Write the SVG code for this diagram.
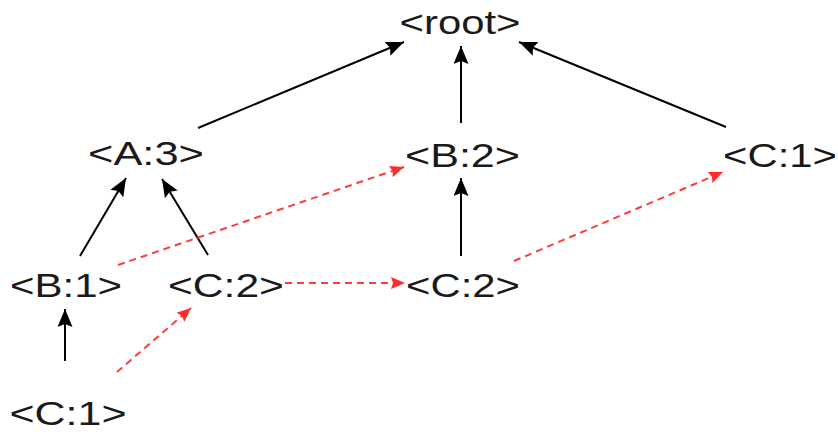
<svg xmlns="http://www.w3.org/2000/svg" width="838" height="437" viewBox="0 0 838 437">
  <defs>
    <marker id="headBlack" markerUnits="userSpaceOnUse" markerWidth="19" markerHeight="15" refX="18" refY="7.5" orient="auto">
      <path d="M0,0 L18,7.5 L0,15 L3,7.5 z" fill="#000"/>
    </marker>
    <marker id="headRed" markerUnits="userSpaceOnUse" markerWidth="15" markerHeight="12" refX="14" refY="6" orient="auto">
      <path d="M0,0 L14,6 L0,12 L2,6 z" fill="#ff2a2a"/>
    </marker>
  </defs>
  <style>
    .lbl { font-family: "Liberation Sans", Arial, sans-serif; font-size: 32.5px; fill: #1a1a1a; text-anchor: middle; }
    .tree { stroke: #000; stroke-width: 2; fill: none; marker-end: url(#headBlack); }
    .link { stroke: #ff3b3b; stroke-width: 2; stroke-dasharray: 7 5; fill: none; marker-end: url(#headRed); }
  </style>

  <g id="connectors">
    <!-- parent edges -->
    <line class="tree" x1="198" y1="128" x2="404" y2="42"/>
    <line class="tree" x1="461" y1="123" x2="461" y2="46"/>
    <line class="tree" x1="726" y1="127" x2="519" y2="42"/>
    <line class="tree" x1="80" y1="256" x2="126" y2="178"/>
    <line class="tree" x1="208" y1="255" x2="162" y2="179"/>
    <line class="tree" x1="461" y1="256" x2="461" y2="178"/>
    <line class="tree" x1="65" y1="361" x2="65" y2="309"/>
    <!-- node links -->
    <line class="link" x1="118" y1="265" x2="404" y2="167"/>
    <line class="link" x1="285" y1="283" x2="405" y2="283"/>
    <line class="link" x1="514" y1="261" x2="723" y2="172"/>
    <line class="link" x1="117" y1="372" x2="191" y2="308"/>
  </g>

  <g id="root"><text class="lbl" x="460" y="34" textLength="121" lengthAdjust="spacingAndGlyphs">&lt;root&gt;</text></g>
  <g id="a3"><text class="lbl" x="146" y="165" textLength="116" lengthAdjust="spacingAndGlyphs">&lt;A:3&gt;</text></g>
  <g id="b2"><text class="lbl" x="462.5" y="166.5" textLength="115" lengthAdjust="spacingAndGlyphs">&lt;B:2&gt;</text></g>
  <g id="c1-top"><text class="lbl" x="780" y="166.5" textLength="114" lengthAdjust="spacingAndGlyphs">&lt;C:1&gt;</text></g>
  <g id="b1"><text class="lbl" x="66" y="296.5" textLength="112" lengthAdjust="spacingAndGlyphs">&lt;B:1&gt;</text></g>
  <g id="c2-left"><text class="lbl" x="226" y="296.5" textLength="116" lengthAdjust="spacingAndGlyphs">&lt;C:2&gt;</text></g>
  <g id="c2-mid"><text class="lbl" x="463" y="296.5" textLength="114" lengthAdjust="spacingAndGlyphs">&lt;C:2&gt;</text></g>
  <g id="c1-bottom"><text class="lbl" x="68" y="425" textLength="117" lengthAdjust="spacingAndGlyphs">&lt;C:1&gt;</text></g>
</svg>
